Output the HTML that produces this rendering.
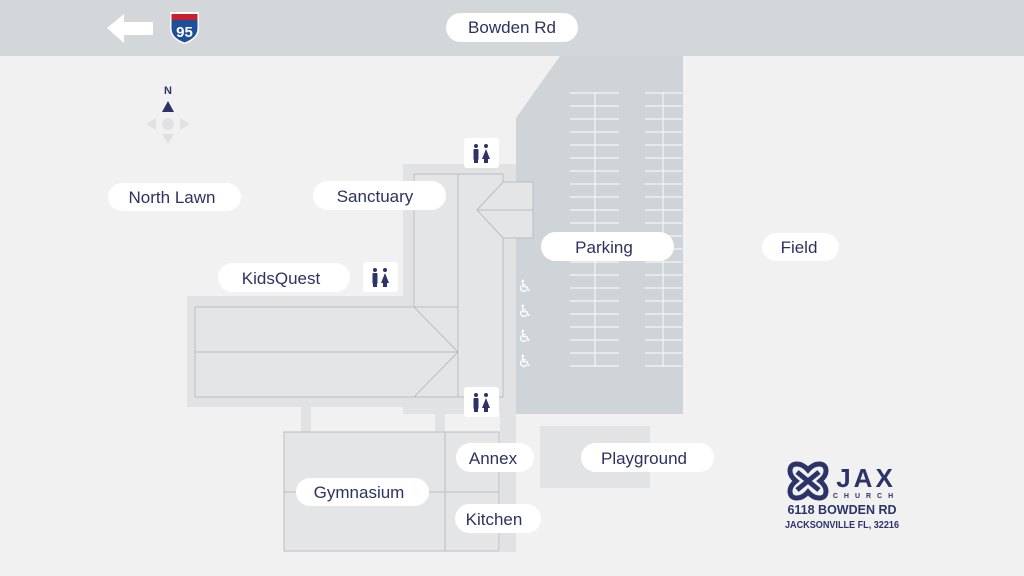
<!DOCTYPE html>
<html><head><meta charset="utf-8"><style>
body{margin:0;width:1024px;height:576px;overflow:hidden;background:#f1f1f1;font-family:"Liberation Sans",sans-serif}
</style></head><body>
<svg width="1024" height="576" viewBox="0 0 1024 576" xmlns="http://www.w3.org/2000/svg" style="display:block">
<rect width="1024" height="576" fill="#f1f1f1"/>
<rect x="0" y="0" width="1024" height="56" fill="#d3d7da"/>
<polygon points="560,56 683,56 683,414 516,414 516,118" fill="#cfd4d8"/>
<g stroke="#f4f5f6" stroke-width="1.2">
<line x1="595" y1="92" x2="595" y2="367"/>
<line x1="663" y1="92" x2="663" y2="367"/>
<path d="M570 93h49M645 93h37M570 106h49M645 106h37M570 119h49M645 119h37M570 132h49M645 132h37M570 145h49M645 145h37M570 158h49M645 158h37M570 171h49M645 171h37M570 184h49M645 184h37M570 197h49M645 197h37M570 210h49M645 210h37M570 223h49M645 223h37M570 236h49M645 236h37M570 249h49M645 249h37M570 262h49M645 262h37M570 275h49M645 275h37M570 288h49M645 288h37M570 301h49M645 301h37M570 314h49M645 314h37M570 327h49M645 327h37M570 340h49M645 340h37M570 353h49M645 353h37M570 366h49M645 366h37"/>
</g>
<g fill="#e1e2e4">
<rect x="403" y="164" width="113" height="250"/>
<rect x="187" y="296" width="329" height="111"/>
<rect x="500" y="400" width="16" height="152"/>
<rect x="301" y="405" width="10" height="28"/>
<rect x="435" y="405" width="10" height="28"/>
</g>
<rect x="540" y="426" width="110" height="62" fill="#e2e3e5"/>
<g fill="#e4e5e7" stroke="#b9bdc3" stroke-width="1">
<rect x="414" y="174" width="89" height="223"/>
<rect x="195" y="307" width="263" height="90"/>
<polygon points="503,182 533,182 533,238 503,238 477,210"/>
<rect x="284" y="432" width="215" height="119"/>
</g>
<g stroke="#b9bdc3" stroke-width="1" fill="none">
<line x1="458" y1="174" x2="458" y2="397"/>
<line x1="195" y1="352" x2="458" y2="352"/>
<polyline points="414,307 458,352 414,397"/>
<line x1="477" y1="210" x2="533" y2="210"/>
<line x1="445" y1="432" x2="445" y2="551"/>
<line x1="284" y1="492" x2="499" y2="492"/>
</g>
<g fill="#fff" font-size="17" font-family="DejaVu Sans" text-anchor="middle">
<text x="525" y="292">♿</text><text x="525" y="317">♿</text><text x="525" y="342">♿</text><text x="525" y="367">♿</text>
</g>
<g fill="#fff">
<rect x="464" y="138" width="35" height="30" rx="3"/>
<rect x="363" y="262" width="35" height="30" rx="3"/>
<rect x="464" y="387" width="35" height="30" rx="3"/>
</g>
<g fill="#2d3366">
<g transform="translate(481,153)"><circle cx="-5" cy="-7" r="2"/><rect x="-7.5" y="-4" width="5" height="11" rx="1"/><circle cx="5" cy="-7" r="2"/><polygon points="5,-4 9,6 1,6"/><rect x="3" y="4" width="4" height="6"/><rect x="-7" y="5" width="4" height="5"/></g>
<g transform="translate(380,277)"><circle cx="-5" cy="-7" r="2"/><rect x="-7.5" y="-4" width="5" height="11" rx="1"/><circle cx="5" cy="-7" r="2"/><polygon points="5,-4 9,6 1,6"/><rect x="3" y="4" width="4" height="6"/><rect x="-7" y="5" width="4" height="5"/></g>
<g transform="translate(481,402)"><circle cx="-5" cy="-7" r="2"/><rect x="-7.5" y="-4" width="5" height="11" rx="1"/><circle cx="5" cy="-7" r="2"/><polygon points="5,-4 9,6 1,6"/><rect x="3" y="4" width="4" height="6"/><rect x="-7" y="5" width="4" height="5"/></g>
</g>
<g fill="#fff">
<rect x="446" y="13" width="132" height="29" rx="14.5"/>
<rect x="108" y="183" width="133" height="28" rx="14"/>
<rect x="313" y="181" width="133" height="29" rx="14.5"/>
<rect x="218" y="263" width="132" height="29" rx="14.5"/>
<rect x="541" y="232" width="133" height="29" rx="14.5"/>
<rect x="762" y="233" width="77" height="28" rx="14"/>
<rect x="456" y="443" width="78" height="29" rx="14.5"/>
<rect x="581" y="443" width="133" height="29" rx="14.5"/>
<rect x="296" y="478" width="133" height="28" rx="14"/>
<rect x="455" y="504" width="86" height="29" rx="14.5"/>
</g>
<g fill="#2d3160" font-size="17" text-anchor="middle" font-family="Liberation Sans, sans-serif">
<text x="512" y="33">Bowden Rd</text>
<text x="172" y="203">North Lawn</text>
<text x="375" y="202">Sanctuary</text>
<text x="281" y="284">KidsQuest</text>
<text x="604" y="253">Parking</text>
<text x="799" y="253">Field</text>
<text x="493" y="464">Annex</text>
<text x="644" y="464">Playground</text>
<text x="359" y="498">Gymnasium</text>
<text x="494" y="525">Kitchen</text>
</g>
<polygon points="107,28 124,14 124,22 153,22 153,35 124,35 124,43" fill="#fff"/>
<path d="M170 12 H199 V28 C199 38 190 42 184.5 44 C179 42 170 38 170 28 Z" fill="#fff"/>
<path d="M171.5 14 H197.5 V28 C197.5 37 189.5 40.5 184.5 42.5 C179.5 40.5 171.5 37 171.5 28 Z" fill="#1f4e9a"/>
<rect x="171.5" y="14" width="26" height="6" fill="#c8202e"/>
<text x="184.5" y="37" fill="#fff" font-size="15" font-weight="bold" text-anchor="middle">95</text>
<text x="168" y="94" fill="#2d3366" font-size="11" font-weight="bold" text-anchor="middle">N</text>
<polygon points="162,112 168,101 174,112" fill="#2d3366"/>
<g fill="#e0e1e3"><circle cx="168" cy="124" r="6"/><polygon points="146,124 156,118 156,130"/><polygon points="190,124 180,118 180,130"/><polygon points="162,134 174,134 168,144"/></g>
<g fill="none" stroke="#2b3468" stroke-width="5">
<path d="M790 471 Q790 464 797 464 Q803 464 808 470 Q813 464 819 464 Q826 464 826 471 Q826 476 820 481 Q826 486 826 491 Q826 498 819 498 Q813 498 808 492 Q803 498 797 498 Q790 498 790 491 Q790 486 796 481 Q790 476 790 471 Z"/>
<path d="M797 472 L819 490 M819 472 L797 490"/>
</g>
<g fill="#2b3468" font-family="Liberation Sans, sans-serif" font-weight="bold">
<text x="866" y="487" font-size="26" text-anchor="middle" letter-spacing="3">JAX</text>
<text x="866" y="498" font-size="7" text-anchor="middle" letter-spacing="6">CHURCH</text>
<text x="842" y="514" font-size="12.5" text-anchor="middle">6118 BOWDEN RD</text>
<text x="842" y="528" font-size="10.5" text-anchor="middle" textLength="114" lengthAdjust="spacingAndGlyphs">JACKSONVILLE FL, 32216</text>
</g>
</svg>
</body></html>
